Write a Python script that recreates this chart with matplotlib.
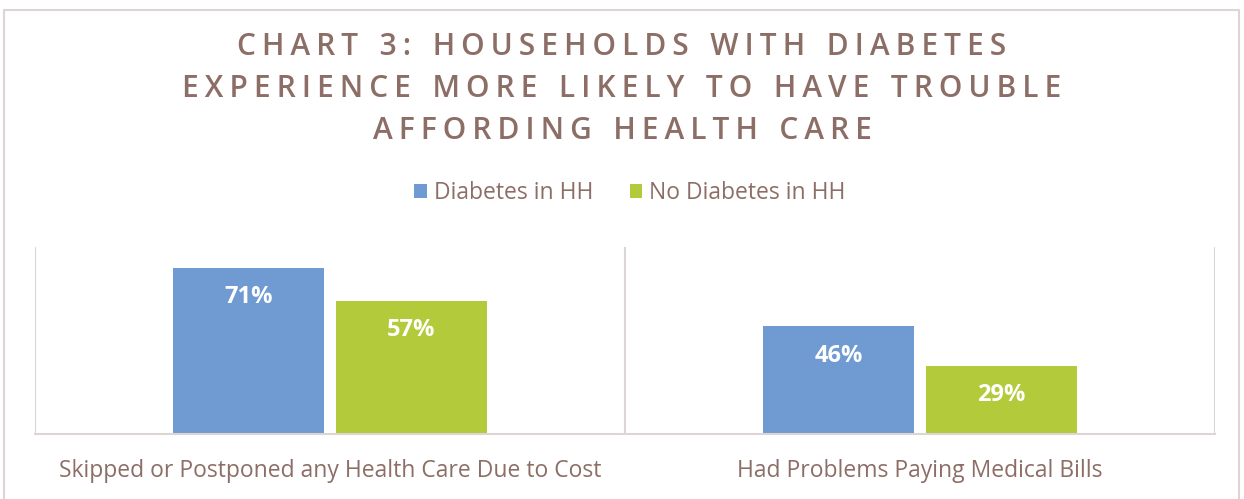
import matplotlib.pyplot as plt
import numpy as np
from matplotlib.patches import Rectangle

categories = ["Skipped or Postponed any Health Care Due to Cost", "Had Problems Paying Medical Bills"]
series_names = ["Diabetes in HH", "No Diabetes in HH"]
diabetes = [71, 46]
no_diabetes = [57, 29]
title_lines = ["CHART 3: HOUSEHOLDS WITH DIABETES",
               "EXPERIENCE MORE LIKELY TO HAVE TROUBLE",
               "AFFORDING HEALTH CARE"]

BLUE = "#6F9BD2"
GREEN = "#B3CA3B"
BROWN = "#8C6E66"
GRID = "#DDD5D3"

plt.rcParams['font.family'] = ['Open Sans', 'DejaVu Sans']

fig = plt.figure(figsize=(12.44, 4.99), dpi=100)
ax = fig.add_axes([35 / 1244, 65 / 499, 1180 / 1244, 187 / 499])

x = np.arange(len(categories))
w = 0.256
off = 0.138
b1 = ax.bar(x - off, diabetes, w, color=BLUE, label=series_names[0])
b2 = ax.bar(x + off, no_diabetes, w, color=GREEN, label=series_names[1])

for bars, vals in ((b1, diabetes), (b2, no_diabetes)):
    for bar, v in zip(bars, vals):
        ax.annotate(f"{v}%", (bar.get_x() + bar.get_width() / 2, v),
                    xytext=(0, -21), textcoords="offset points",
                    ha="center", va="center", color="white",
                    fontsize=17, fontweight="bold")

ax.set_xlim(-0.5, 1.5)
ax.set_ylim(0, 80)
ax.set_yticks([])
ax.set_xticks(x)
ax.set_xticklabels(categories, fontsize=16.5, color=BROWN)
ax.tick_params(axis="x", length=0, pad=18)
for s in ("top", "left", "right"):
    ax.spines[s].set_visible(False)
ax.spines["bottom"].set_color(GRID)
ax.spines["bottom"].set_linewidth(1.5)
for sep in (-0.5, 0.5, 1.5):
    ax.axvline(sep, color=GRID, lw=1.5, zorder=0)

# letter-spaced title
sp = "\u2009"
for i, line in enumerate(title_lines):
    spaced = sp.join(line).replace(" " + sp, "  ")
    fig.text(0.5, 1 - (47 + 42 * i) / 499, spaced, ha="center", va="center",
             fontsize=21.5, fontweight="semibold", color=BROWN)

leg = fig.legend(handles=[b1, b2], labels=series_names, loc="center",
                 bbox_to_anchor=(630 / 1244, 1 - 193 / 499), ncol=2, frameon=False,
                 fontsize=16.5, handlelength=0.55, handleheight=0.55,
                 handletextpad=0.3, columnspacing=1.6)
for t in leg.get_texts():
    t.set_color(BROWN)

fig.patches.append(Rectangle((4 / 1244, -0.02), 1235 / 1244, 1.0, transform=fig.transFigure,
                             fill=False, edgecolor=GRID, lw=1.5))

fig.savefig("out.png", dpi=100)
